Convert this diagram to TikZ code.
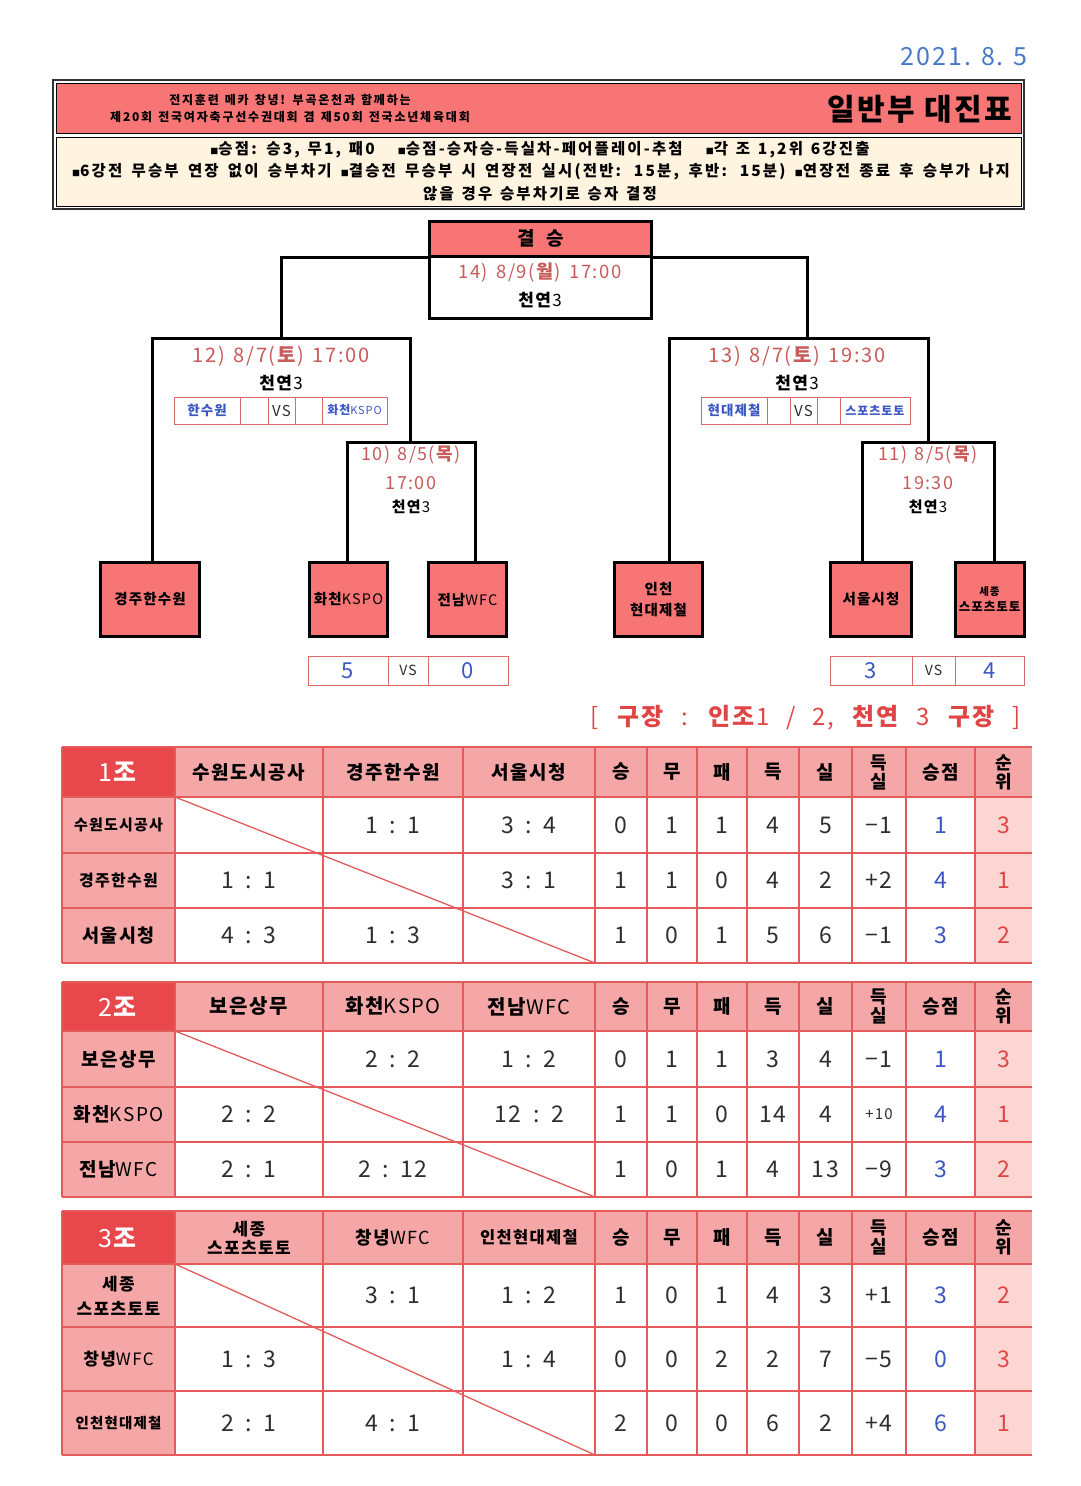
\documentclass[tikz,border=0pt]{standalone}
\usepackage{fontspec}
\setmainfont{Noto Sans CJK KR}[LetterSpace=8]
\newcommand\fs[1]{\fontsize{#1}{\dimexpr #1pt*6/5\relax}\selectfont}
\newcommand\wsp[1]{\spaceskip=#1\relax}
\definecolor{boxred}{HTML}{F77575}
\definecolor{cream}{HTML}{FFF4DF}
\definecolor{hdrpink}{HTML}{F5A6A6}
\definecolor{cornerred}{HTML}{E8474B}
\definecolor{rankpink}{HTML}{FCD6D2}
\definecolor{gridred}{HTML}{E35B5B}
\definecolor{minired}{HTML}{D86A6A}
\definecolor{datered}{HTML}{C95A5A}
\definecolor{blu}{HTML}{3B57C4}
\definecolor{txt}{HTML}{2E2E2E}
\definecolor{rankred}{HTML}{E04545}
\definecolor{datebl}{HTML}{4A78C8}
\tikzset{
  br/.style={draw=black, line width=3pt, line join=miter},
  teambox/.style={draw=black, line width=3pt, fill=boxred, inner sep=0pt, align=center,
    font=\fs{14.5}\bfseries, minimum height=74pt},
  gridline/.style={draw=gridred, line width=1.3pt},
  mini/.style={draw=minired, line width=0.8pt},
  datef/.style={text=datered, font=\fs{20}\wsp{0.45em}, inner sep=0pt},
  venue/.style={text=black, font=\fs{17}, inner sep=0pt},
  hfont/.style={text=black, font=\fs{19}\bfseries, inner sep=0pt},
  num/.style={text=txt, font=\fs{23}, inner sep=0pt},
  rfont/.style={text=black, inner sep=0pt, align=center},
}
\newcommand\sco[2]{#1\enspace:\enspace#2}
\newcommand\grpgrid[5]{%
  \fill[hdrpink] (62,#1) rectangle (1032,#2);
  \fill[cornerred] (62,#1) rectangle (175,#2);
  \fill[hdrpink] (62,#2) rectangle (175,#5);
  \fill[rankpink] (975,#2) rectangle (1032,#5);
  \foreach \yy in {#2,#3,#4} \draw[gridline] (62,\yy) -- (1032,\yy);
  \foreach \xx in {62,175,323,463,595,647,697,747,799,852,906,975} \draw[gridline] (\xx,#1) -- (\xx,#5);
  \draw[gridline] (175,#2) -- (595,#5);
  \draw[gridline, line width=2.5pt] (62,#1) -- (1032,#1);
  \draw[gridline, line width=2.5pt] (62,#5) -- (1032,#5);
}
\newcommand\grphead[5]{%
  \node[text=white, font=\fs{25}, inner sep=0pt] at (118.5,#1) {#2};
  \node[hfont] at (249,#1) {#3};
  \node[hfont] at (393,#1) {#4};
  \node[hfont] at (529,#1) {#5};
  \node[hfont] at (621,#1) {승};
  \node[hfont] at (672,#1) {무};
  \node[hfont] at (722,#1) {패};
  \node[hfont] at (773,#1) {득};
  \node[hfont] at (825.5,#1) {실};
  \node[hfont, align=center, font=\fontsize{18}{19}\selectfont\bfseries] at (879,#1) {득\\실};
  \node[hfont] at (940.5,#1) {승점};
  \node[hfont, align=center, font=\fontsize{18}{19}\selectfont\bfseries] at (1003.5,#1) {순\\위};
}
\newcommand\grprow[6]{%
  \node[rfont, font=#2] at (118.5,#1) {#3};
  \node[num] at (249,#1) {#4};
  \node[num] at (393,#1) {#5};
  \node[num] at (529,#1) {#6};
}
\newcommand\grpstat[9]{%
  \node[num] at (621,#1) {#2};
  \node[num] at (672,#1) {#3};
  \node[num] at (722,#1) {#4};
  \node[num] at (773,#1) {#5};
  \node[num] at (825.5,#1) {#6};
  \node[num] at (879,#1) {#7};
  \node[num, text=blu] at (940.5,#1) {#8};
  \node[num, text=rankred] at (1003.5,#1) {#9};
}
\newcommand\bul{{\fontsize{8}{8}\selectfont■}}
\begin{document}
\begin{tikzpicture}[x=1pt,y=-1pt]
\useasboundingbox[fill=white] (0,0) rectangle (1080,1486);

% date
\node[anchor=east, text=datebl, font=\fs{25}\wsp{0.3em}, inner sep=0pt] (date) at (1028,57) {2021. 8. 5};

% header
\draw[line width=1.5pt, draw=black!80] (53,80) rectangle (1024,209);
\draw[line width=1pt, fill=boxred] (56,83) rectangle (1021,133);
\draw[line width=1pt, fill=cream] (56,137) rectangle (1021,206);
\node[font=\fs{12}\bfseries\addfontfeature{LetterSpace=15}\wsp{0.5em}, inner sep=0pt] (h1) at (290,100) {전지훈련 메카 창녕! 부곡온천과 함께하는};
\node[font=\fs{12}\bfseries\addfontfeature{LetterSpace=15}\wsp{0.5em}, inner sep=0pt] (h2) at (290,117) {제20회 전국여자축구선수권대회 겸 제50회 전국소년체육대회};
\node[anchor=east, font=\fs{30}\bfseries, inner sep=0pt] (title) at (1012,109) {일반부 대진표};
\node[font=\fs{15.5}\bfseries\addfontfeature{LetterSpace=14}\wsp{0.5em}, inner sep=0pt] (r1) at (540,150) {\bul 승점: 승3, 무1, 패0\quad\ \bul 승점-승자승-득실차-페어플레이-추첨\quad\ \bul 각 조 1,2위 6강진출};
\node[font=\fs{15.5}\bfseries\addfontfeature{LetterSpace=14}\wsp{0.5em plus 1em}, inner sep=0pt] (r2) at (541,172) {\makebox[938pt][s]{\bul 6강전 무승부 연장 없이 승부차기 \bul 결승전 무승부 시 연장전 실시(전반: 15분, 후반: 15분) \bul 연장전 종료 후 승부가 나지}};
\node[font=\fs{15.5}\bfseries\addfontfeature{LetterSpace=14}\wsp{0.5em}, inner sep=0pt] (r3) at (540,194) {않을 경우 승부차기로 승자 결정};

% bracket coordinates
\coordinate (F1) at (281,257);
\coordinate (F2) at (807,257);
\coordinate (S12L) at (152,338);
\coordinate (S12R) at (410,338);
\coordinate (Q10L) at (347,442);
\coordinate (Q10R) at (475,442);
\coordinate (S13L) at (669,338);
\coordinate (S13R) at (928,338);
\coordinate (Q11L) at (862,442);
\coordinate (Q11R) at (994,442);

% team boxes
\node[teambox, minimum width=99pt] (gj) at (150,599.5) {경주한수원};
\node[teambox, minimum width=78pt] (hc) at (348.5,599.5) {화천\mdseries KSPO};
\node[teambox, minimum width=78pt] (jn) at (467.5,599.5) {전남\mdseries WFC};
\node[teambox, minimum width=88pt] (ic) at (658.5,599.5) {인천\\[3pt]현대제철};
\node[teambox, minimum width=81pt] (ss) at (871,599.5) {서울시청};
\node[teambox, minimum width=69pt, font=\fs{12.5}\bfseries] (sj) at (989.5,599.5) {{\fs{10.5}세종}\\[1pt]스포츠토토};

% bracket lines
\draw[br] (F1 |- S12L) -- (F1) -- (F2) -- (F2 |- S13L);
\draw[br] (gj.north -| S12L) -- (S12L) -- (S12R) -- (S12R |- Q10L);
\draw[br] (hc.north -| Q10L) -- (Q10L) -- (Q10R) -- (jn.north -| Q10R);
\draw[br] (ic.north -| S13L) -- (S13L) -- (S13R) -- (S13R |- Q11L);
\draw[br] (ss.north -| Q11L) -- (Q11L) -- (Q11R) -- (sj.north -| Q11R);

% final box
\node[draw=black, line width=3pt, fill=white, minimum width=222pt, minimum height=62pt, inner sep=0pt] (finb) at (540.5,287) {};
\node[draw=black, line width=3pt, fill=boxred, minimum width=222pt, minimum height=35pt, inner sep=0pt, font=\fs{19}\bfseries] (fin) at (540.5,238.5) {결\ \ 승};
\node[datef, font=\fs{18.5}\wsp{0.45em}] (d14) at (540,273) {14) 8/9(\textbf{월}) 17:00};
\node[venue] (v14) at (540,300) {\textbf{천연}3};

% semifinal 12
\node[datef] (d12) at (281,356) {12) 8/7(\textbf{토}) 17:00};
\node[venue] (v12) at (281,383) {\textbf{천연}3};
\draw[mini] (174,397) rectangle (387,424);
\foreach \xx in {240,268,295,322} \draw[mini] (\xx,397) -- (\xx,424);
\node[text=blu, font=\fs{13.5}\bfseries, inner sep=0pt] (m12a) at (207,410.5) {한수원};
\node[text=txt, font=\fs{15}, inner sep=0pt] (m12v) at (281.5,410.5) {VS};
\node[text=blu, font=\fs{12}\bfseries, inner sep=0pt] (m12b) at (354.5,410.5) {화천{\mdseries\fs{11}KSPO}};

% semifinal 13
\node[datef] (d13) at (797,356) {13) 8/7(\textbf{토}) 19:30};
\node[venue] (v13) at (797,383) {\textbf{천연}3};
\draw[mini] (701,397) rectangle (910,424);
\foreach \xx in {767,790,817,840} \draw[mini] (\xx,397) -- (\xx,424);
\node[text=blu, font=\fs{13.5}\bfseries, inner sep=0pt] (m13a) at (734,410.5) {현대제철};
\node[text=txt, font=\fs{15}, inner sep=0pt] (m13v) at (803.5,410.5) {VS};
\node[text=blu, font=\fs{12}\bfseries, inner sep=0pt] (m13b) at (875,410.5) {스포츠토토};

% quarterfinal 10
\node[datef, font=\fs{18}\wsp{0.4em}] (d10) at (411,455) {10) 8/5(\textbf{목})};
\node[datef, font=\fs{18}] (t10) at (411,483) {17:00};
\node[venue, font=\fs{15}] (v10) at (411,507) {\textbf{천연}3};
% quarterfinal 11
\node[datef, font=\fs{18}\wsp{0.4em}] (d11) at (928,455) {11) 8/5(\textbf{목})};
\node[datef, font=\fs{18}] (t11) at (928,483) {19:30};
\node[venue, font=\fs{15}] (v11) at (928,507) {\textbf{천연}3};

% score boxes
\draw[mini] (308,656) rectangle (508,685);
\foreach \xx in {388,428} \draw[mini] (\xx,656) -- (\xx,685);
\node[text=blu, font=\fs{22}, inner sep=0pt] (s10a) at (348,670.5) {5};
\node[text=txt, font=\fs{14}, inner sep=0pt] (s10v) at (408,670.5) {VS};
\node[text=blu, font=\fs{22}, inner sep=0pt] (s10b) at (468,670.5) {0};
\draw[mini] (830,656) rectangle (1024,685);
\foreach \xx in {912,955} \draw[mini] (\xx,656) -- (\xx,685);
\node[text=blu, font=\fs{22}, inner sep=0pt] (s11a) at (871,670.5) {3};
\node[text=txt, font=\fs{14}, inner sep=0pt] (s11v) at (933.5,670.5) {VS};
\node[text=blu, font=\fs{22}, inner sep=0pt] (s11b) at (989.5,670.5) {4};

% venue line
\node[anchor=east, text=rankred, font=\fs{24}\wsp{0.68em}, inner sep=0pt] (venues) at (1021,718)
  {[ \textbf{구장} : \textbf{인조}1 / 2, \textbf{천연} 3 \textbf{구장} ]};

% group 1
\grpgrid{747}{797}{853}{908}{963}
\grphead{772}{1\textbf{조}}{수원도시공사}{경주한수원}{서울시청}
\grprow{825}{\fs{15}\bfseries}{수원도시공사}{}{\sco11}{\sco34}
\grpstat{825}{0}{1}{1}{4}{5}{−1}{1}{3}
\grprow{880.5}{\fs{16}\bfseries}{경주한수원}{\sco11}{}{\sco31}
\grpstat{880.5}{1}{1}{0}{4}{2}{+2}{4}{1}
\grprow{935.5}{\fs{18.5}\bfseries}{서울시청}{\sco43}{\sco13}{}
\grpstat{935.5}{1}{0}{1}{5}{6}{−1}{3}{2}

% group 2
\grpgrid{982}{1031}{1087}{1142}{1197}
\grphead{1006.5}{2\textbf{조}}{\fs{20}보은상무}{\fs{20}화천\mdseries KSPO}{\fs{20}전남\mdseries WFC}
\grprow{1059}{\fs{19}\bfseries}{보은상무}{}{\sco22}{\sco12}
\grpstat{1059}{0}{1}{1}{3}{4}{−1}{1}{3}
\grprow{1114.5}{\fs{19}\bfseries}{화천\mdseries KSPO}{\sco22}{}{\sco{12}2}
\grpstat{1114.5}{1}{1}{0}{14}{4}{\fs{15}+10}{4}{1}
\grprow{1169.5}{\fs{19}\bfseries}{전남\mdseries WFC}{\sco21}{\sco2{12}}{}
\grpstat{1169.5}{1}{0}{1}{4}{13}{−9}{3}{2}

% group 3
\grpgrid{1211}{1264}{1327}{1391}{1455}
\grphead{1237.5}{3\textbf{조}}{\fontsize{17}{21}\selectfont\shortstack{세종\\스포츠토토}}{\fs{18}창녕\mdseries WFC}{\fs{16.5}인천현대제철}
\grprow{1295.5}{\fontsize{17}{25}\selectfont\bfseries}{세종\\스포츠토토}{}{\sco31}{\sco12}
\grpstat{1295.5}{1}{0}{1}{4}{3}{+1}{3}{2}
\grprow{1359}{\fs{17}\bfseries}{창녕\mdseries WFC}{\sco13}{}{\sco14}
\grpstat{1359}{0}{0}{2}{2}{7}{−5}{0}{3}
\grprow{1423}{\fs{14.5}\bfseries}{인천현대제철}{\sco21}{\sco41}{}
\grpstat{1423}{2}{0}{0}{6}{2}{+4}{6}{1}
\end{tikzpicture}
\end{document}
